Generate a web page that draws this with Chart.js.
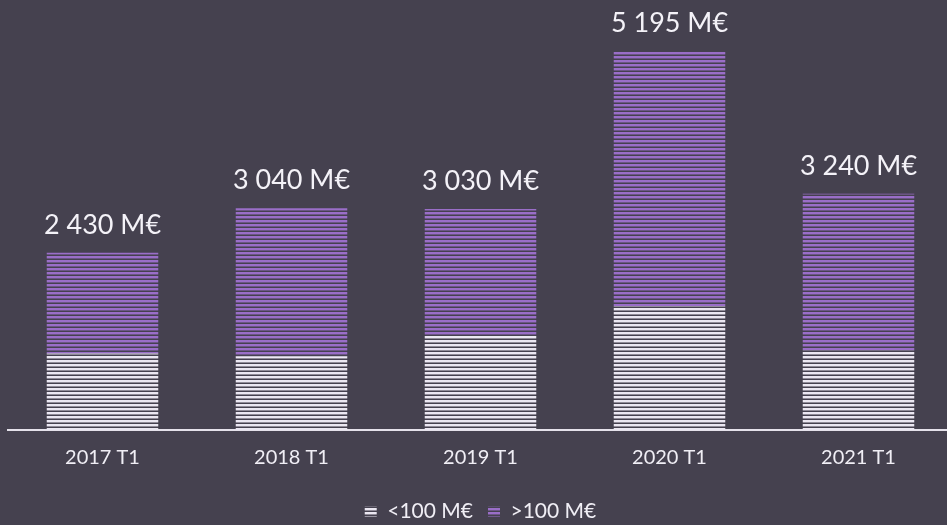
<!DOCTYPE html>
<html>
<head>
<meta charset="utf-8">
<script src="https://cdn.jsdelivr.net/npm/chart.js@4"></script>
<style>
  html, body { margin: 0; padding: 0; background: #45414f; overflow: hidden; }
  #wrap { width: 955px; height: 525px; }
</style>
</head>
<body>
<div id="wrap"><canvas id="quarterChart"></canvas></div>
<script>
const quarters = ["2017 T1", "2018 T1", "2019 T1", "2020 T1", "2021 T1"];
const under100 = [1050, 1010, 1300, 1700, 1090];
const over100 = [1380, 2030, 1730, 3495, 2150];
const totalLabels = ["2 430 M€", "3 040 M€", "3 030 M€", "5 195 M€", "3 240 M€"];
const seriesNames = ["<100 M€", ">100 M€"];

const bg = '#45414f';

// horizontal stripes, like the hatch fill in the original
function stripes(color) {
    const c = document.createElement('canvas');
    c.width = 8;
    c.height = 4;
    const g = c.getContext('2d');
    g.fillStyle = bg;
    g.fillRect(0, 0, 8, 4);
    g.fillStyle = color;
    g.fillRect(0, 0, 8, 2);
    g.globalAlpha = 0.45;
    g.fillRect(0, 2, 8, 1);
    return g.createPattern(c, 'repeat');
}

const whiteFill = stripes('#ebe7f2');
const purpleFill = stripes('#9a6ec8');

const totalsPlugin = {
    id: 'totals',
    afterDatasetsDraw(chart) {
        const ctx = chart.ctx;
        const meta = chart.getDatasetMeta(1);
        ctx.save();
        ctx.font = '27px Lato';
        ctx.fillStyle = '#f4f2f8';
        ctx.textAlign = 'center';
        ctx.textBaseline = 'bottom';
        meta.data.forEach((bar, i) => {
            ctx.fillText(totalLabels[i], bar.x, bar.y - 14);
        });
        ctx.restore();
    }
};

var ctx = document.getElementById('quarterChart');

var quarterChart = new Chart(ctx, {
    type: 'bar',
    data: {
        labels: quarters,
        datasets: [{
            label: seriesNames[0],
            data: under100,
            backgroundColor: whiteFill,
        }, {
            label: seriesNames[1],
            data: over100,
            backgroundColor: purpleFill,
        }]
    },
    options: {
        responsive: true,
        maintainAspectRatio: false,
        animation: false,
        layout: { padding: { left: 8, right: 2, top: 7, bottom: -7 } },
        datasets: {
            bar: { categoryPercentage: 1, barPercentage: 0.59 }
        },
        scales: {
            x: {
                stacked: true,
                grid: { display: false, drawTicks: false },
                border: { color: '#e4e1ea', width: 2 },
                ticks: { color: '#f0eef5', font: { family: 'Lato', size: 20 }, padding: 16 }
            },
            y: {
                stacked: true,
                display: false,
                min: 0,
                max: 5800
            }
        },
        plugins: {
            legend: {
                position: 'bottom',
                labels: {
                    color: '#f0eef5',
                    font: { family: 'Lato', size: 21 },
                    boxWidth: 12,
                    boxHeight: 10,
                    padding: 15
                }
            },
            tooltip: { enabled: false }
        }
    },
    plugins: [totalsPlugin]
});
</script>
</body>
</html>
